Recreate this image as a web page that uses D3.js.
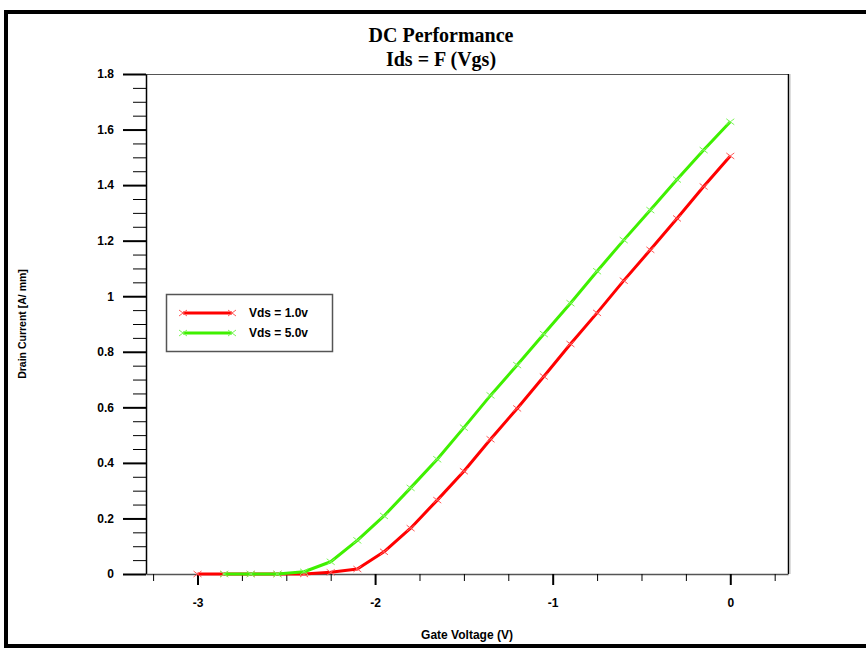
<!DOCTYPE html>
<html>
<head>
<meta charset="utf-8">
<script src="https://cdn.jsdelivr.net/npm/d3@7"></script>
<style>
  body { margin: 0; background: #fff; }
  text { font-family: "Liberation Sans", Arial, sans-serif; font-weight: bold; fill: #000; }
  .title { font-family: "Liberation Serif", "Times New Roman", serif; font-size: 20px; }
  .tick text { font-size: 12px; font-family: "Liberation Sans", Arial, sans-serif; font-weight: bold; }
</style>
</head>
<body>
<svg id="chart" width="866" height="648"></svg>
<script>
const width = 866;
const height = 648;
const margin = { top: 74, right: 78, bottom: 74, left: 146 };

// gate voltage steps (V)
const vgsLow = [-3, -2.85, -2.7, -2.55, -2.4, -2.25, -2.1, -1.95, -1.8, -1.65, -1.5,
  -1.35, -1.2, -1.05, -0.9, -0.75, -0.6, -0.45, -0.3, -0.15, 0];
const vgsHigh = [-2.85, -2.7, -2.55, -2.4, -2.25, -2.1, -1.95, -1.8, -1.65, -1.5,
  -1.35, -1.2, -1.05, -0.9, -0.75, -0.6, -0.45, -0.3, -0.15, 0];
// drain current (A/mm)
const idsVds1 = [0, 0, 0, 0, 0, 0.006, 0.018, 0.08, 0.165, 0.266, 0.37,
  0.485, 0.596, 0.711, 0.828, 0.94, 1.056, 1.167, 1.28, 1.395, 1.505];
const idsVds5 = [0, 0, 0, 0.008, 0.044, 0.121, 0.209, 0.31, 0.413, 0.527,
  0.643, 0.752, 0.864, 0.975, 1.09, 1.202, 1.31, 1.42, 1.526, 1.628];

const seriesNames = ["Vds = 1.0v", "Vds = 5.0v"];
const xMajor = [-3, -2, -1, 0];
const xMinor = [-3.25, -2.75, -2.5, -2.25, -1.75, -1.5, -1.25, -0.75, -0.5, -0.25, 0.25];
const yMajor = [0, 0.2, 0.4, 0.6, 0.8, 1, 1.2, 1.4, 1.6, 1.8];
const yMinor = [0.05, 0.1, 0.15, 0.25, 0.3, 0.35, 0.45, 0.5, 0.55, 0.65, 0.7, 0.75,
  0.85, 0.9, 0.95, 1.05, 1.1, 1.15, 1.25, 1.3, 1.35, 1.45, 1.5, 1.55, 1.65, 1.7, 1.75];

const series = [
  { name: seriesNames[0], xs: vgsLow, ys: idsVds1, color: "#ff0000", mark: "#ff5a5a" },
  { name: seriesNames[1], xs: vgsHigh, ys: idsVds5, color: "#3ff000", mark: "#7cf55a" }
];

const svg = d3.select("#chart");

const x = d3.scaleLinear()
  .domain([-3.29, 0.325])
  .range([margin.left, width - margin.right]);

const y = d3.scaleLinear()
  .domain([0, 1.8])
  .range([height - margin.bottom, margin.top]);

// outer frame
svg.append("rect").attr("x", 4).attr("y", 10).attr("width", 870).attr("height", 4).attr("fill", "#000");
svg.append("rect").attr("x", 4).attr("y", 10).attr("width", 4).attr("height", 640).attr("fill", "#000");
svg.append("rect").attr("x", 4).attr("y", 644).attr("width", 870).attr("height", 4).attr("fill", "#000");

// plot box
svg.append("line")
  .attr("x1", margin.left).attr("x2", width - margin.right)
  .attr("y1", margin.top + 0.5).attr("y2", margin.top + 0.5)
  .attr("stroke", "#555");
svg.append("line")
  .attr("x1", width - margin.right + 0.5).attr("x2", width - margin.right + 0.5)
  .attr("y1", margin.top).attr("y2", height - margin.bottom)
  .attr("stroke", "#000").attr("stroke-width", 1.5);
svg.append("line")
  .attr("x1", width - margin.right + 2).attr("x2", width - margin.right + 2)
  .attr("y1", margin.top).attr("y2", height - margin.bottom)
  .attr("stroke", "#bbb");

// axes
const yAxis = svg.append("g")
  .attr("transform", `translate(${margin.left},0)`)
  .call(d3.axisLeft(y).tickValues(yMajor).tickSize(23).tickSizeOuter(0)
    .tickPadding(9).tickFormat(d => String(d)));
yAxis.selectAll(".tick line").attr("stroke-width", 2);
yAxis.select(".domain").attr("stroke", "#000").attr("stroke-width", 1.5);

svg.append("g")
  .attr("transform", `translate(${margin.left},0)`)
  .call(d3.axisLeft(y).tickValues(yMinor).tickSize(13).tickFormat(""))
  .call(g => g.select(".domain").remove());

const xAxis = svg.append("g")
  .attr("transform", `translate(0,${height - margin.bottom})`)
  .call(d3.axisBottom(x).tickValues(xMajor).tickSize(11).tickSizeOuter(0)
    .tickPadding(13).tickFormat(d => String(d)));
xAxis.selectAll(".tick line").attr("stroke-width", 2);
xAxis.select(".domain").attr("stroke", "#555").attr("stroke-width", 1.5);

svg.append("g")
  .attr("transform", `translate(0,${height - margin.bottom})`)
  .call(d3.axisBottom(x).tickValues(xMinor).tickSize(7).tickFormat(""))
  .call(g => g.select(".domain").remove());

// titles
svg.append("text").attr("class", "title")
  .attr("x", 441).attr("y", 42).attr("text-anchor", "middle")
  .text("DC Performance");
svg.append("text").attr("class", "title")
  .attr("x", 441).attr("y", 66).attr("text-anchor", "middle")
  .text("Ids = F (Vgs)");

svg.append("text")
  .attr("x", (margin.left + width - margin.right) / 2)
  .attr("y", 639)
  .attr("text-anchor", "middle")
  .style("font-size", "12px")
  .text("Gate Voltage (V)");

svg.append("text")
  .attr("transform", `translate(26,${(margin.top + height - margin.bottom) / 2}) rotate(-90)`)
  .attr("text-anchor", "middle")
  .style("font-size", "10.5px")
  .text("Drain Current [A/ mm]");

// curves
const line = d3.line()
  .x(d => x(d[0]))
  .y(d => y(d[1]));

const cross = "M-4,-3L4,3M-4,3L4,-3";

series.forEach(s => {
  const pts = s.xs.map((v, i) => [v, s.ys[i]]);
  svg.append("path")
    .datum(pts)
    .attr("fill", "none")
    .attr("stroke", s.color)
    .attr("stroke-width", 3)
    .attr("stroke-linejoin", "round")
    .attr("d", line);
  svg.append("g")
    .selectAll("path")
    .data(pts)
    .enter()
    .append("path")
    .attr("transform", d => `translate(${x(d[0])},${y(d[1])})`)
    .attr("d", cross)
    .attr("fill", "none")
    .attr("stroke", s.mark)
    .attr("stroke-width", 1);
});

// legend
const legend = svg.append("g");
legend.append("rect")
  .attr("x", 166.5).attr("y", 294.5)
  .attr("width", 166).attr("height", 57)
  .attr("fill", "#fff")
  .attr("stroke", "#555")
  .attr("stroke-width", 1.5);

series.forEach((s, i) => {
  const ly = 313 + i * 20;
  legend.append("line")
    .attr("x1", 183).attr("x2", 232)
    .attr("y1", ly).attr("y2", ly)
    .attr("stroke", s.color)
    .attr("stroke-width", 3);
  [183, 232].forEach(lx => {
    legend.append("path")
      .attr("transform", `translate(${lx},${ly})`)
      .attr("d", cross)
      .attr("fill", "none")
      .attr("stroke", s.mark);
  });
  legend.append("text")
    .attr("x", 249).attr("y", ly + 4)
    .style("font-size", "12px")
    .text(s.name);
});
</script>
</body>
</html>
